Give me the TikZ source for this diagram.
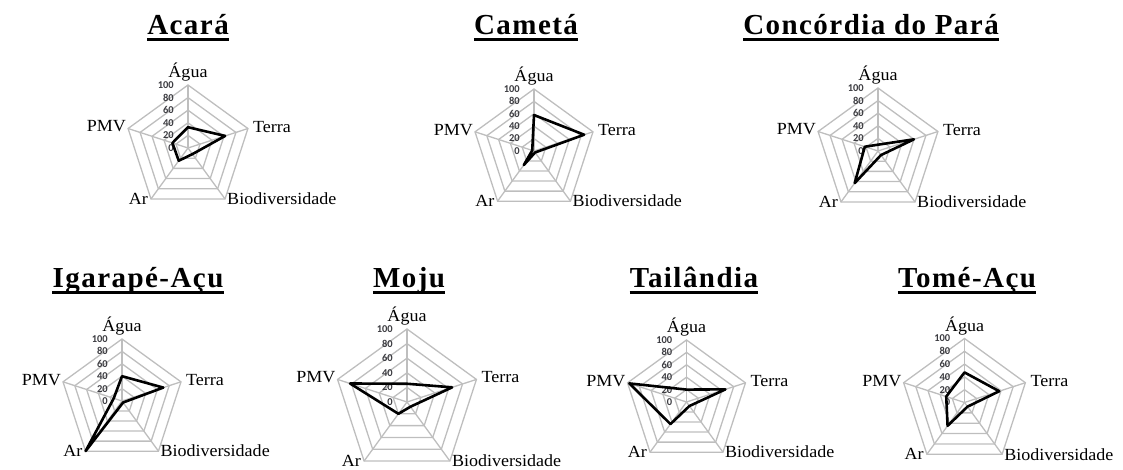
\documentclass[tikz,border=0pt]{standalone}
\usepackage{fontspec}
\setmainfont{Liberation Serif}
\newfontfamily\titlefont[LetterSpace=5]{Liberation Serif}
\newfontfamily\labfont[FakeStretch=1.06]{Liberation Serif}
\newfontfamily\tickfont{Carlito}
\definecolor{gridgray}{RGB}{190,190,190}
\definecolor{ticktxt}{RGB}{60,60,65}
\tikzset{
  gridline/.style={draw=gridgray, line width=1.3pt},
  dataline/.style={draw=black, line width=2.6pt, line join=round},
  ttl/.style={font=\titlefont\bfseries\fontsize{29}{29}\selectfont, inner sep=0pt, anchor=base},
  uline/.style={line width=3pt},
  axlab/.style={font=\labfont\fontsize{17}{17}\selectfont, inner sep=0pt},
  ticklab/.style={font=\tickfont\bfseries\fontsize{10.5}{10.5}\selectfont, text=ticktxt, inner sep=0pt, anchor=east},
}
% #1 name, #2 cx, #3 cy, #4 R, #5 agua, #6 terra, #7 bio, #8 ar, #9 pmv
\newcommand\radarchart[9]{%
  \begin{scope}[shift={(#2,#3)}]
    \coordinate (#1-c) at (0,0);
    \foreach \k in {1,...,5}{%
      \pgfmathsetmacro\rr{#4*\k/5}%
      \draw[gridline] (90:\rr pt) -- (18:\rr pt) -- (-54:\rr pt) -- (-126:\rr pt) -- (162:\rr pt) -- cycle;
    }
    \foreach \a/\n in {90/agua,18/terra,-54/bio,-126/ar,162/pmv}{%
      \coordinate (#1-\n) at (\a:#4pt);
      \draw[gridline] (#1-c) -- (#1-\n);
    }
    \foreach \k in {0,...,5}{%
      \pgfmathsetmacro\rr{#4*\k/5}%
      \pgfmathtruncatemacro\tv{20*\k}%
      \node[ticklab] (#1-t\k) at (-14,\rr) {\tv};
    }
    \draw[dataline] (90:{#5*#4/100*1pt}) -- (18:{#6*#4/100*1pt}) -- (-54:{#7*#4/100*1pt})
      -- (-126:{#8*#4/100*1pt}) -- (162:{#9*#4/100*1pt}) -- cycle;
    \node[axlab, anchor=base] (#1-la) at ([yshift=7pt]#1-agua) {Água};
    \node[axlab, anchor=west] (#1-lt) at ([xshift=5pt,yshift=2pt]#1-terra) {Terra};
    \node[axlab, anchor=west] (#1-lb) at ([xshift=2pt]#1-bio) {Biodiversidade};
    \node[axlab, anchor=east] (#1-lr) at ([xshift=-3pt]#1-ar) {Ar};
    \node[axlab, anchor=east] (#1-lp) at ([xshift=-2pt,yshift=2pt]#1-pmv) {PMV};
  \end{scope}}
\newcommand\charttitle[4]{%
  \node[ttl] (#1) at (#2,#3) {#4};
  \draw[uline] ([yshift=-4.5pt]#1.base west) -- ([yshift=-4.5pt]#1.base east);}
\begin{document}
\begin{tikzpicture}[x=1pt,y=1pt]
\useasboundingbox (0,0) rectangle (1123,470);
\radarchart{aca}{188}{322}{63}{33}{62}{12}{25}{26}
\radarchart{cam}{534}{319}{62}{58}{85}{3}{28}{3}
\radarchart{con}{878}{319}{63}{10}{60}{8}{63}{22}
\radarchart{iga}{122}{69}{62}{40}{70}{3}{100}{14}
\radarchart{moj}{407}{68}{73}{25}{65}{8}{20}{82}
\radarchart{tai}{686.5}{68}{62}{20}{66}{8}{44}{97}
\radarchart{tom}{964.5}{67.5}{64}{47}{57}{8}{45}{30}
\charttitle{t1}{188}{435}{Acará}
\charttitle{t2}{526}{435}{Cametá}
\charttitle{t3}{871}{435}{Concórdia do Pará}
\charttitle{t4}{138}{182}{Igarapé-Açu}
\charttitle{t5}{409}{182}{Moju}
\charttitle{t6}{694}{182}{Tailândia}
\charttitle{t7}{967}{182}{Tomé-Açu}
\end{tikzpicture}
\end{document}
